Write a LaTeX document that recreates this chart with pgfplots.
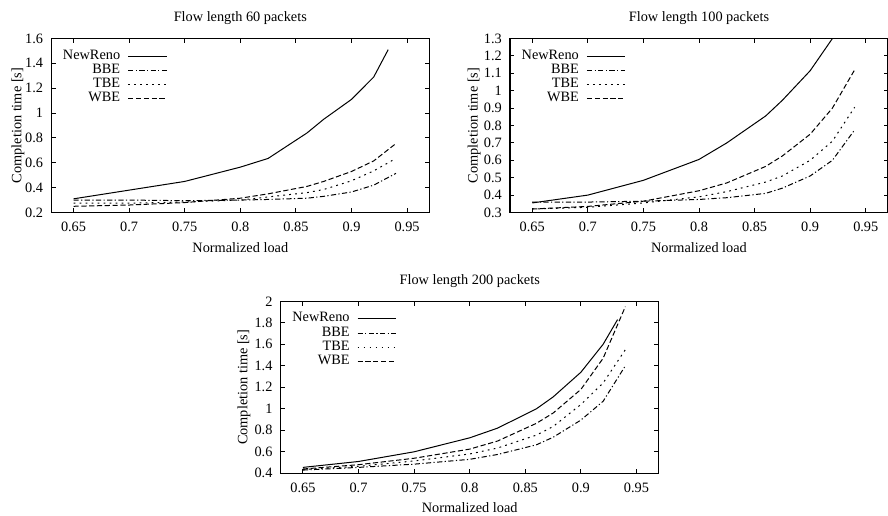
\documentclass[border=0pt]{standalone}
\usepackage{fontspec}
\setmainfont{Liberation Serif}
\usepackage{pgfplots}
\pgfplotsset{compat=1.18}

% gnuplot-like look shared by the three panels
\pgfplotsset{
  flowaxis/.style={
    scale only axis, width=189pt, height=87pt,
    xmin=0.63, xmax=0.97,
    xtick={0.65,0.7,0.75,0.8,0.85,0.9,0.95},
    tick align=inside, major tick length=2.2pt,
    axis line style={line width=0.6pt},
    every tick/.style={line width=0.5pt,black},
    /pgf/number format/assume math mode=true,
    /pgf/number format/.cd, fixed, precision=3, /pgfplots/.cd,
    xticklabel style={yshift=-1.3pt},
    yticklabel style={xshift=-0.6pt},
    xlabel={Normalized load},
    ylabel={Completion time [s]},
    xlabel style={at={(axis description cs:0.5,-0.2)},anchor=center},
    ylabel style={at={(axis description cs:-0.088,0.5)},anchor=center,rotate=0},
    every axis title shift=0pt,
    title style={at={(axis description cs:0.5,1.12)},anchor=center,yshift=0pt},
    legend plot pos=right,
    legend cell align=right,
    legend style={draw=none,fill=none,at={(axis description cs:0,1)},
      anchor=north west,xshift=5.85pt,yshift=-5.25pt,inner sep=0pt,outer sep=0pt,
      row sep=0pt,column sep=3.8pt,
      nodes={inner sep=0pt,text height=5pt,text depth=2.1pt}},
    legend image code/.code={\draw[##1] (0pt,0pt) -- (19.2pt,0pt);},
  },
  newreno/.style={black,line width=0.5pt},
  bbe/.style={black,line width=0.5pt,dash pattern=on 2.6pt off 1.2pt on 0.6pt off 1.2pt},
  tbe/.style={black,line width=0.5pt,dash pattern=on 0.9pt off 2.1pt},
  wbe/.style={black,line width=0.5pt,dash pattern=on 2.6pt off 1.3pt},
}

\begin{document}
\begin{tikzpicture}[font=\fontsize{7.15}{8.6}\selectfont]
\useasboundingbox (0,0) rectangle (444pt,257.5pt);

\begin{axis}[flowaxis, at={(25.65pt,151.25pt)}, anchor=south west,
  title={Flow length 60 packets},
  ymin=0.2, ymax=1.6, ytick={0.2,0.4,...,1.6}]
\addplot[newreno] coordinates {(0.65,0.31)(0.7,0.38)(0.75,0.45)(0.8,0.565)(0.825,0.635)
  (0.86,0.84)(0.875,0.95)(0.9,1.11)(0.92,1.29)(0.933,1.51)};
\addlegendentry{NewReno}
\addplot[bbe] coordinates {(0.65,0.30)(0.7,0.30)(0.75,0.295)(0.8,0.30)(0.825,0.305)
  (0.86,0.315)(0.875,0.33)(0.9,0.365)(0.92,0.42)(0.94,0.515)};
\addlegendentry{BBE}
\addplot[tbe] coordinates {(0.65,0.275)(0.7,0.275)(0.75,0.285)(0.8,0.30)(0.825,0.325)
  (0.86,0.36)(0.875,0.385)(0.9,0.455)(0.92,0.535)(0.94,0.635)};
\addlegendentry{TBE}
\addplot[wbe] coordinates {(0.65,0.25)(0.7,0.26)(0.75,0.28)(0.8,0.315)(0.825,0.35)
  (0.86,0.41)(0.875,0.45)(0.9,0.53)(0.92,0.615)(0.94,0.755)};
\addlegendentry{WBE}
\end{axis}

\begin{axis}[flowaxis, at={(255pt,151.25pt)}, anchor=south west,
  title={Flow length 100 packets},
  ylabel style={at={(axis description cs:-0.095,0.5)}},
  ymin=0.3, ymax=1.3, ytick={0.3,0.4,...,1.3}]
\addplot[newreno] coordinates {(0.65,0.355)(0.7,0.40)(0.75,0.485)(0.8,0.605)(0.825,0.70)
  (0.86,0.855)(0.875,0.945)(0.9,1.115)(0.92,1.30)(0.933,1.48)};
\addlegendentry{NewReno}
\addplot[bbe] coordinates {(0.65,0.36)(0.7,0.36)(0.75,0.365)(0.8,0.375)(0.825,0.385)
  (0.86,0.41)(0.875,0.44)(0.9,0.51)(0.92,0.60)(0.94,0.775)};
\addlegendentry{BBE}
\addplot[tbe] coordinates {(0.65,0.32)(0.7,0.33)(0.75,0.355)(0.8,0.39)(0.825,0.42)
  (0.86,0.475)(0.875,0.51)(0.9,0.60)(0.92,0.71)(0.94,0.905)};
\addlegendentry{TBE}
\addplot[wbe] coordinates {(0.65,0.32)(0.7,0.335)(0.75,0.365)(0.8,0.425)(0.825,0.47)
  (0.86,0.565)(0.875,0.625)(0.9,0.75)(0.92,0.90)(0.94,1.12)};
\addlegendentry{WBE}
\end{axis}

\begin{axis}[flowaxis, at={(140.35pt,20.85pt)}, anchor=south west, height=86pt,
  title={Flow length 200 packets},
  ylabel style={at={(axis description cs:-0.097,0.5)}},
  ymin=0.4, ymax=2, ytick={0.4,0.6,...,2.0}]
\addplot[newreno] coordinates {(0.65,0.455)(0.7,0.51)(0.75,0.60)(0.8,0.73)(0.825,0.82)
  (0.86,1.0)(0.875,1.11)(0.9,1.34)(0.92,1.60)(0.933,1.83)};
\addlegendentry{NewReno}
\addplot[bbe] coordinates {(0.65,0.43)(0.7,0.455)(0.75,0.485)(0.8,0.53)(0.825,0.575)
  (0.86,0.665)(0.875,0.735)(0.9,0.895)(0.92,1.07)(0.94,1.40)};
\addlegendentry{BBE}
\addplot[tbe] coordinates {(0.65,0.435)(0.7,0.465)(0.75,0.515)(0.8,0.58)(0.825,0.635)
  (0.86,0.755)(0.875,0.835)(0.9,1.04)(0.92,1.24)(0.94,1.55)};
\addlegendentry{TBE}
\addplot[wbe] coordinates {(0.65,0.44)(0.7,0.48)(0.75,0.54)(0.8,0.625)(0.825,0.70)
  (0.86,0.865)(0.875,0.96)(0.9,1.18)(0.92,1.47)(0.94,1.95)};
\addlegendentry{WBE}
\end{axis}
\end{tikzpicture}
\end{document}
